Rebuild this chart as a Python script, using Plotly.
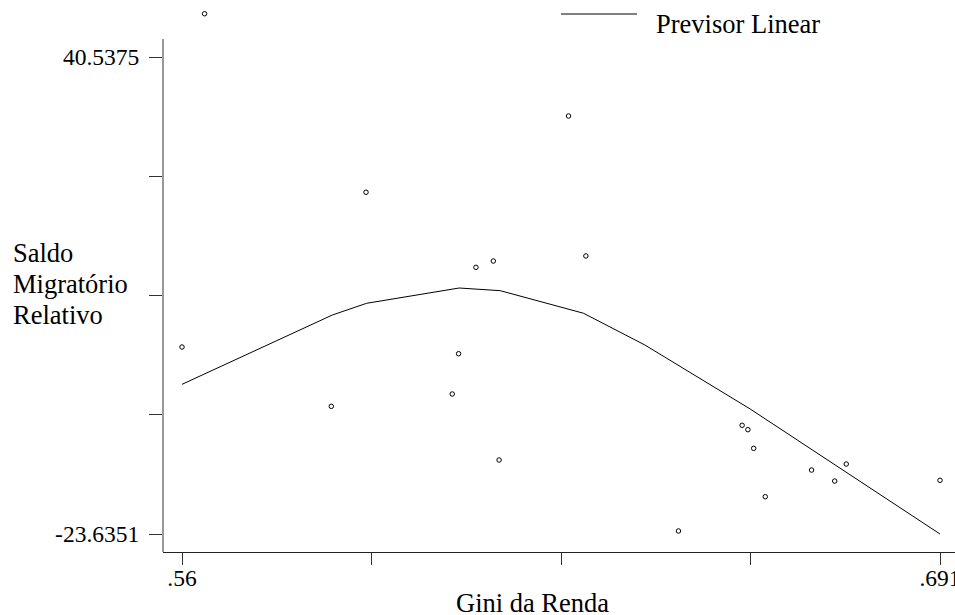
import plotly.graph_objects as go

# Observed data: Gini da Renda (x) vs Saldo Migratório Relativo (y)
gini = [0.5639, 0.5918, 0.6108, 0.6138, 0.6298, 0.6268, 0.5600, 0.5858, 0.6078, 0.6067,
        0.6148, 0.6458, 0.6568, 0.6578, 0.6588, 0.6608, 0.6688, 0.6728, 0.6748, 0.6910]
saldo = [46.36, 22.34, 12.24, 13.09, 13.77, 32.60, 1.52, -6.46, 0.62, -4.80,
         -13.68, -23.23, -9.01, -9.60, -12.11, -18.62, -15.03, -16.51, -14.22, -16.41]

# Fitted values ("Previsor Linear")
fit_x = [0.5600, 0.5860, 0.5919, 0.6079, 0.6150, 0.6270, 0.6294, 0.6400, 0.6582, 0.6910]
fit_y = [-3.50, 5.83, 7.40, 9.46, 9.10, 6.60, 6.06, 1.79, -6.82, -23.6351]

# Axis ticks
y_ticks = [40.5375, 24.4944, 8.4512, -7.5919, -23.6351]
y_ticktext = ["40.5375", "", "", "", "-23.6351"]
x_ticks = [0.56, 0.59275, 0.6255, 0.65825, 0.691]
x_ticktext = [".56", "", "", "", ".691"]

FONT = "Liberation Serif, Times New Roman, serif"

W, H = 955, 615
# plot area in pixels (top at 0 so the highest point, above the axis, stays visible)
X0, X1, Y0, Y1 = 163, 955, 0, 552
L, R, T, B = X0, W - X1, Y0, H - Y1
pw, ph = X1 - X0, Y1 - Y0

# pixel scale from the two labelled ticks
y_top_tick_px, y_bot_tick_px = 57, 534
u_per_px = (y_ticks[0] - y_ticks[-1]) / (y_bot_tick_px - y_top_tick_px)
y_max = y_ticks[0] + (y_top_tick_px - Y0) * u_per_px
y_min = y_ticks[-1] - (Y1 - y_bot_tick_px) * u_per_px
y_axis_top = y_ticks[0] + (y_top_tick_px - 39) * u_per_px   # where the drawn y axis line ends

def px(xp):
    return (xp - X0) / pw

def py(yp):
    return (Y1 - yp) / ph

fig = go.Figure()
fig.add_trace(go.Scatter(
    x=gini, y=saldo, mode="markers",
    marker=dict(symbol="circle-open", size=4.5, color="black", line=dict(width=1, color="black")),
    cliponaxis=False, showlegend=False, hoverinfo="x+y"))
fig.add_trace(go.Scatter(
    x=fit_x, y=fit_y, mode="lines", name="Previsor Linear",
    line=dict(color="black", width=1), showlegend=False))

fig.update_layout(
    template="none",
    width=W, height=H,
    margin=dict(l=L, r=R, t=T, b=B, autoexpand=False),
    paper_bgcolor="white", plot_bgcolor="white",
    font=dict(family=FONT, color="black"),
    xaxis=dict(range=[0.556716, 0.693592], showgrid=False, zeroline=False, automargin=False,
               showline=True, linecolor="#222", linewidth=1,
               ticks="outside", ticklen=12, tickwidth=1, tickcolor="#333",
               tickvals=x_ticks, ticktext=x_ticktext, ticklabelstandoff=-7,
               ticklabeloverflow="allow",
               tickfont=dict(family=FONT, size=23.5, color="black")),
    yaxis=dict(range=[y_min, y_max], showgrid=False, zeroline=False, automargin=False,
               showline=False,
               ticks="outside", ticklen=13, tickwidth=1, tickcolor="#333",
               tickvals=y_ticks, ticktext=y_ticktext, ticklabelstandoff=5,
               ticklabeloverflow="allow",
               tickfont=dict(family=FONT, size=23.5, color="black")),
    shapes=[
        # y axis line (stops below the top of the drawing area, as in the original)
        dict(type="line", xref="paper", yref="y", x0=0, x1=0, y0=y_min, y1=y_axis_top,
             line=dict(color="#333", width=1)),
        # legend key line
        dict(type="line", xref="paper", yref="paper",
             x0=px(561), x1=px(637), y0=py(14), y1=py(14),
             line=dict(color="black", width=1)),
    ],
    annotations=[
        dict(text="Previsor Linear", xref="paper", yref="paper", x=px(654), y=py(24),
             xanchor="left", yanchor="middle", showarrow=False,
             font=dict(family=FONT, size=26.5, color="black")),
        dict(text="Gini da Renda", xref="paper", yref="paper", x=px(532), y=py(603),
             xanchor="center", yanchor="middle", showarrow=False,
             font=dict(family=FONT, size=26.5, color="black")),
        dict(text="Saldo", xref="paper", yref="paper", x=px(11), y=py(253),
             xanchor="left", yanchor="middle", showarrow=False,
             font=dict(family=FONT, size=26.5, color="black")),
        dict(text="Migratório", xref="paper", yref="paper", x=px(11), y=py(284),
             xanchor="left", yanchor="middle", showarrow=False,
             font=dict(family=FONT, size=26.5, color="black")),
        dict(text="Relativo", xref="paper", yref="paper", x=px(11), y=py(315),
             xanchor="left", yanchor="middle", showarrow=False,
             font=dict(family=FONT, size=26.5, color="black")),
    ],
)

# remove the default 8px page margin so the 955x615 figure fills the window exactly
fig.write_html("out.html", config={"displayModeBar": False},
               post_script="document.body.style.margin='0px';document.body.style.overflow='hidden';")
